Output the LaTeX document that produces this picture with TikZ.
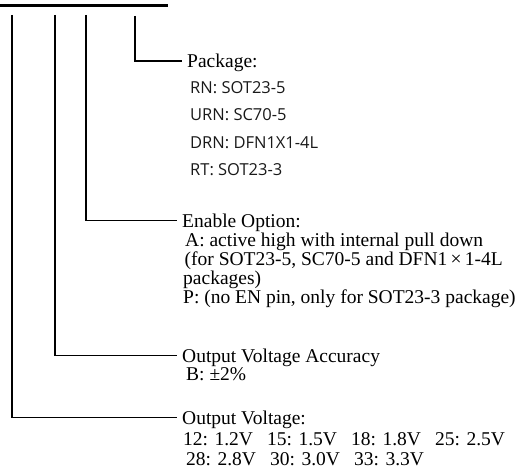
\documentclass[tikz,border=0pt]{standalone}
\usepackage{fontspec}
\setmainfont{Liberation Serif}
\newfontfamily\listfont{Open Sans}
\usetikzlibrary{positioning}

\newcommand{\bodyfont}{\fontsize{19.5}{19}\selectfont}
\newcommand{\col}[1]{\makebox[84pt][l]{#1}}

\tikzset{
  lead/.style={line width=1.6pt},
  head/.style={anchor=base west,inner xsep=5pt,inner ysep=0pt,font=\bodyfont},
  body/.style={anchor=base west,inner sep=0pt,font=\bodyfont},
  pkgitem/.style={anchor=mid west,inner sep=0pt,font=\listfont\fontsize{16.5}{18}\selectfont,text=black!90}
}

\begin{document}
\begin{tikzpicture}[x=1pt,y=-1pt]
\useasboundingbox (0,0) rectangle (528,470);
% part number bar
\draw[line width=3.5pt](0,5.5)--(168,5.5);
\coordinate (vtop) at (12,15);
\coordinate (atop) at (55,15);
\coordinate (etop) at (86,15);
\coordinate (ptop) at (135,16);
% package
\node[head](pkg) at (182,68){Package:};
\foreach \t [count=\i] in {RN: SOT23-5,URN: SC70-5,DRN: DFN1X1-4L,RT: SOT23-3}
  \node[pkgitem](pkg\i) at (190,63.5+27.5*\i){\t};
% enable option
\node[head](en) at (177,228){Enable Option:};
\node[body](enbody) at (183,247){\parbox[t]{346pt}{\fontsize{19.5}{18.7}\selectfont
  \hspace*{2pt}A: active high with internal pull down\\
  \hspace*{1.5pt}(for SOT23-5, SC70-5 and DFN1\,×\,1-4L\\
  packages)\\
  P: (no EN pin, only for SOT23-3 package)}};
% accuracy
\node[head](acc) at (177,363){Output Voltage Accuracy};
\node[body](accbody) at (186,381){B: ±2\%};
% output voltage
\node[head](vout) at (177,425){Output Voltage:};
\node[body](voutbody) at (183,446){\parbox[t]{346pt}{\fontsize{19.5}{19.5}\selectfont
  \col{12: 1.2V}\col{15: 1.5V}\col{18: 1.8V}25: 2.5V\\
  \hspace*{3pt}\col{28: 2.8V}\col{30: 3.0V}33: 3.3V}};
% leads
\draw[lead](ptop)|-([yshift=7pt]pkg.base west);
\draw[lead](etop)|-([yshift=7.5pt]en.base west);
\draw[lead](atop)|-([yshift=7.5pt]acc.base west);
\draw[lead](vtop)|-([yshift=7.5pt]vout.base west);
\end{tikzpicture}
\end{document}
